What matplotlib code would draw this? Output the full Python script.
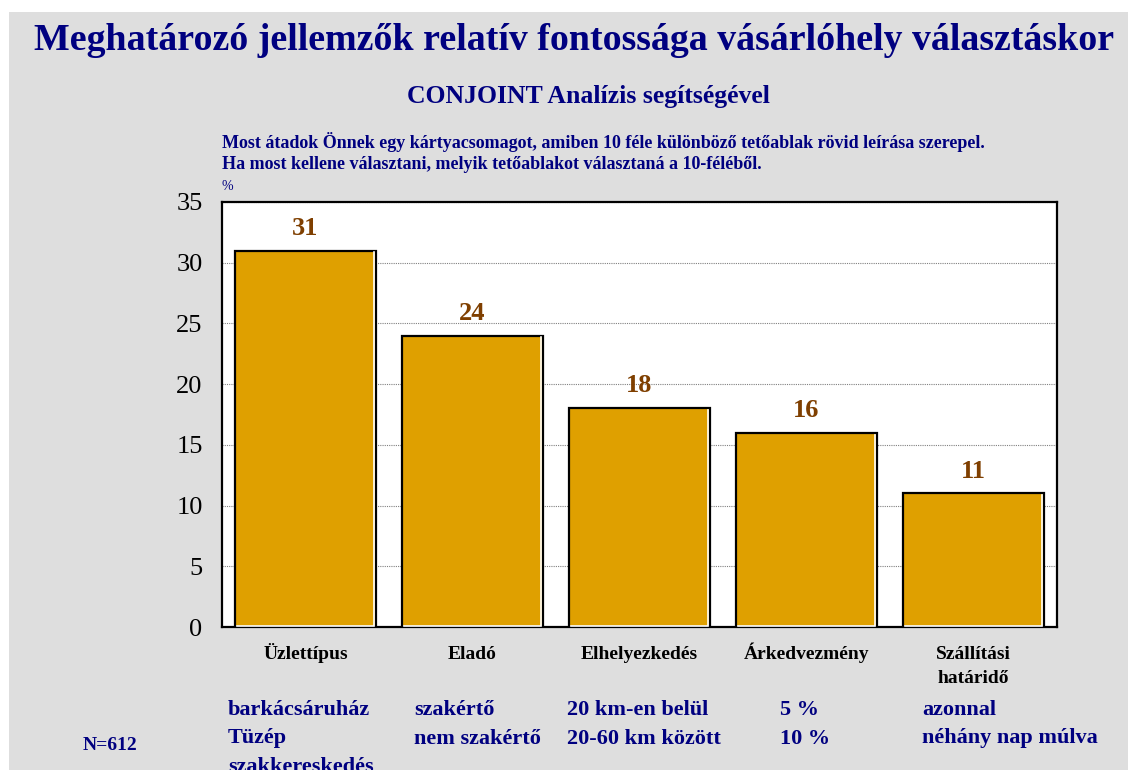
import matplotlib
matplotlib.use("Agg")
import matplotlib.pyplot as plt
from matplotlib.patches import Rectangle

categories = ["Üzlettípus", "Eladó", "Elhelyezkedés", "Árkedvezmény", "Szállítási\nhatáridő"]
values = [31, 24, 18, 16, 11]
levels = [
    ["barkácsáruház", "Tüzép", "szakkereskedés"],
    ["szakértő", "nem szakértő"],
    ["20 km-en belül", "20-60 km között"],
    ["5 %", "10 %"],
    ["azonnal", "néhány nap múlva"],
]
yticks = [0, 5, 10, 15, 20, 25, 30, 35]

title = "Meghatározó jellemzők relatív fontossága vásárlóhely választáskor"
subtitle = "CONJOINT Analízis segítségével"
question = ["Most átadok Önnek egy kártyacsomagot, amiben 10 féle különböző tetőablak rövid leírása szerepel.",
            "Ha most kellene választani, melyik tetőablakot választaná a 10-féléből."]

W, H = 1128, 770
NAVY = "#000080"
BAR = "#DFA000"
BROWN = "#7F3F00"
GRAY = "#DEDEDE"
SERIF = ["Liberation Serif", "DejaVu Serif"]

fig = plt.figure(figsize=(W / 100, H / 100), dpi=100)
fig.patch.set_facecolor("white")
# gray panel behind everything, leaving a thin white margin top/left
fig.patches.append(Rectangle((9 / W, 0), 1 - 9 / W, 1 - 12 / H, transform=fig.transFigure,
                             facecolor=GRAY, edgecolor="none", zorder=-10))


def fx(x):
    return x / W


def fy(y):
    return 1 - y / H


ax = fig.add_axes([fx(222), fy(627), 835 / W, 425 / H])
ax.set_facecolor("white")
x = list(range(len(values)))
bw = 0.845
ax.bar(x, values, width=bw, color=BAR, edgecolor="black", linewidth=1.6, zorder=3)
# white inner highlight along right and bottom of each bar
for xi, v in zip(x, values):
    ax.plot([xi + bw / 2 - 0.012, xi + bw / 2 - 0.012, xi - bw / 2 + 0.012],
            [v - 0.15, 0.12, 0.12], color="white", lw=1.2, zorder=4, solid_joinstyle="miter")
for xi, v in zip(x, values):
    ax.text(xi, v + 0.9, str(v), ha="center", va="bottom", color=BROWN,
            fontsize=19, fontweight="bold", family=SERIF)

ax.set_xlim(-0.5, len(values) - 0.5)
ax.set_ylim(0, 35)
ax.set_yticks(yticks)
ax.set_yticklabels([str(t) for t in yticks], fontsize=19, family=SERIF)
ax.tick_params(axis="y", length=0, pad=14)
ax.set_xticks([])
ax.yaxis.grid(True, linestyle=(0, (1, 1)), color="#808080", linewidth=0.8, zorder=0)
ax.set_axisbelow(True)
for s in ax.spines.values():
    s.set_linewidth(1.6)
    s.set_color("black")

# category labels under each bar (baseline of the last line is anchored)
line_gap = 24 * 35 / 425
for xi, c in zip(x, categories):
    n = c.count("\n")
    ax.text(xi, -2.6 - n * line_gap, c, ha="center", va="baseline", fontsize=14,
            fontweight="bold", family=SERIF, linespacing=1.5)

# attribute levels
level_x = [228, 414, 567, 780, 922]
for lx, lv in zip(level_x, levels):
    for i, t in enumerate(lv):
        fig.text(fx(lx), fy(715 + 28.5 * i), t, ha="left", va="baseline", color=NAVY,
                 fontsize=16, fontweight="bold", family=SERIF)

fig.text(fx(110), fy(745), "N=612", ha="center", va="center", color=NAVY,
         fontsize=14, fontweight="bold", family=SERIF)

fig.text(fx(574), fy(41), title, ha="center", va="center", color=NAVY,
         fontsize=27.3, fontweight="bold", family=SERIF)
fig.text(fx(588), fy(96), subtitle, ha="center", va="center", color=NAVY,
         fontsize=18.5, fontweight="bold", family=SERIF)
for i, q in enumerate(question):
    fig.text(fx(222), fy(148 + 21 * i), q, ha="left", va="baseline", color=NAVY,
             fontsize=13, fontweight="bold", family=SERIF)
fig.text(fx(222), fy(186), "%", ha="left", va="center", color=NAVY,
         fontsize=10, family=SERIF)

fig.savefig("out.png", dpi=100, facecolor=fig.get_facecolor())
